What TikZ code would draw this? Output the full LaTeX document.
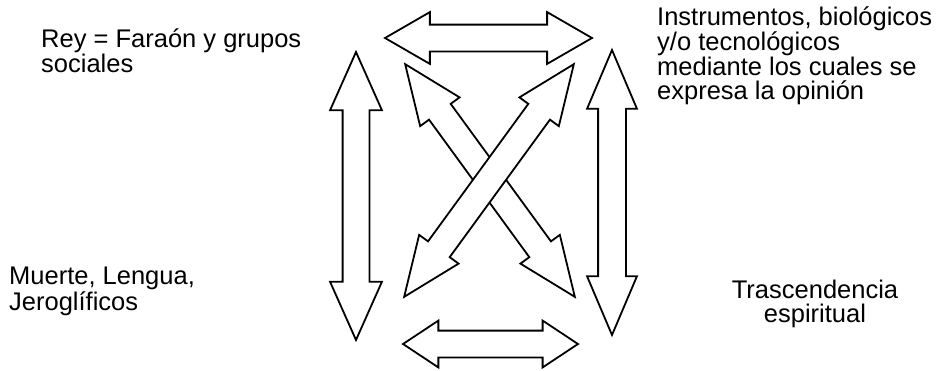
\documentclass[tikz,border=0pt]{standalone}
\usepackage{fontspec}
\setmainfont{Liberation Sans}
\usetikzlibrary{shapes.arrows}

\begin{document}
\begin{tikzpicture}[
  x=1pt, y=-1pt,
  txt/.style={inner sep=0pt, font=\fontsize{25.5}{23.7}\selectfont},
  darrow/.style={double arrow, draw, line width=1.8pt, fill=white, inner xsep=0pt, inner ysep=12.5pt, double arrow head extend=12.5pt}
]
\useasboundingbox (0,0) rectangle (943,370);
\node[txt, align=left, anchor=base west] (rey) at (41,72) {Rey = Faraón y grupos\\sociales};
\node[txt, align=left, anchor=base west] (muerte) at (9,310) {Muerte, Lengua,\\Jeroglíficos};
\node[txt, align=left, anchor=base west] (instr) at (657,99) {Instrumentos, biológicos\\y/o tecnológicos\\mediante los cuales se\\expresa la opinión};
\node[txt, align=center, anchor=base] (trasc) at (815,322) {Trascendencia\\espiritual};
\node[darrow, minimum height=207pt, double arrow tip angle=60] (upper) at (488.5,38) {};
\node[darrow, minimum height=175pt, double arrow head extend=10pt, double arrow tip angle=67] (lower) at (490.5,344) {};
\node[darrow, rotate=90, minimum height=288pt, double arrow tip angle=48] (leftv) at (356,196) {};
\node[darrow, rotate=90, minimum height=285pt, double arrow head extend=11pt, inner ysep=13pt, double arrow tip angle=46] (rightv) at (612,192.5) {};
\node[darrow, rotate=-53.9, minimum height=288pt, double arrow head extend=11pt, double arrow tip angle=45] (cross1) at (490,180.5) {};
\node[darrow, rotate=53.9, minimum height=288pt, double arrow head extend=11pt, double arrow tip angle=45] (cross2) at (489,180.5) {};
\end{tikzpicture}
\end{document}
